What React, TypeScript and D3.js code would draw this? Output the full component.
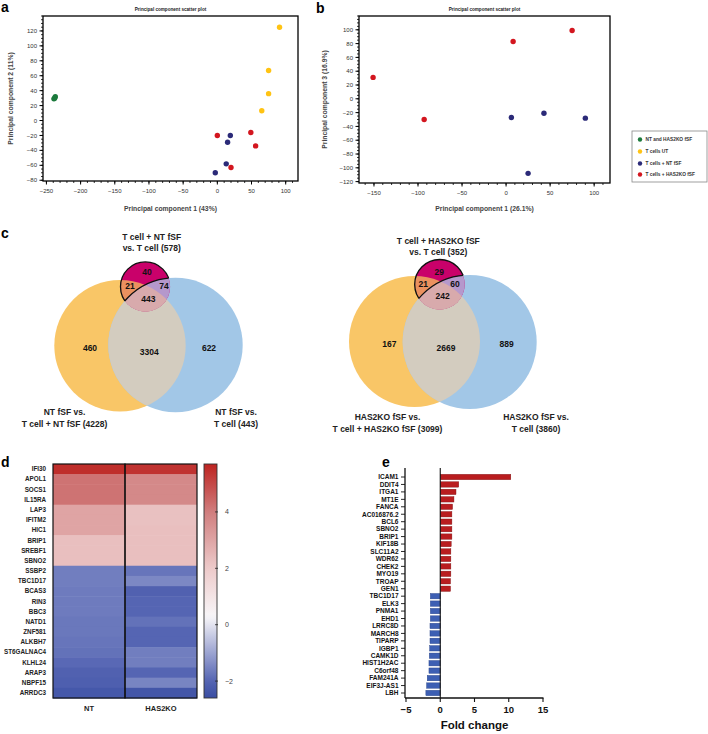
import React from 'react';
import * as d3 from 'd3';

const FONT = 'Arial, "Liberation Sans", Helvetica, sans-serif';

// ---------- PCA data ----------
const pcaGroups = ['NT and HAS2KO fSF', 'T cells UT', 'T cells + NT fSF', 'T cells + HAS2KO fSF'];
const groupColors = ['#1c7a3c', '#ffc313', '#2b2a78', '#d3161f'];

const pc1A = [-239, -237, -238, 91, 75, 75, 65, 19, 15, 13, -3, 0, 20, 49, 56];
const pc2A = [29, 32, 30, 125, 67, 36, 13, -20, -29, -58, -70, -20, -63, -16, -34];
const groupA = [0, 0, 0, 1, 1, 1, 1, 2, 2, 2, 2, 3, 3, 3, 3];

const pc1B = [6, 43, 90, 25, -151, -93, 8, 75];
const pc3B = [-27, -21, -28, -108, 31, -30, 83, 99];
const groupB = [2, 2, 2, 2, 3, 3, 3, 3];

const ticksA_x = [-250, -200, -150, -100, -50, 0, 50, 100];
const ticksA_y = [-80, -60, -40, -20, 0, 20, 40, 60, 80, 100, 120];
const ticksB_x = [-150, -100, -50, 0, 50, 100];
const ticksB_y = [-120, -100, -80, -60, -40, -20, 0, 20, 40, 60, 80, 100];

// ---------- Venn data ----------
const vennNtCounts = [40, 21, 74, 443, 460, 3304, 622];
const vennKoCounts = [29, 21, 60, 242, 167, 2669, 889];
const vennNtTop = ['T cell + NT fSF', 'vs. T cell (578)'];
const vennNtLeft = ['NT fSF vs.', 'T cell + NT fSF (4228)'];
const vennNtRight = ['NT fSF vs.', 'T cell (443)'];
const vennKoTop = ['T cell + HAS2KO fSF', 'vs. T cell (352)'];
const vennKoLeft = ['HAS2KO fSF vs.', 'T cell + HAS2KO fSF (3099)'];
const vennKoRight = ['HAS2KO fSF vs.', 'T cell (3860)'];

// ---------- Heatmap data ----------
const heatGenes = ['IFI30', 'APOL1', 'SOCS1', 'IL15RA', 'LAP3', 'IFITM2', 'HIC1', 'BRIP1', 'SREBF1', 'SBNO2',
  'SSBP2', 'TBC1D17', 'BCAS3', 'RIN3', 'BBC3', 'NATD1', 'ZNF581', 'ALKBH7', 'ST6GALNAC4', 'KLHL24', 'ARAP3', 'NBPF15', 'ARRDC3'];
const heatCols = ['NT', 'HAS2KO'];
const heatNT = [5.5, 4.2, 4.2, 4.2, 3.0, 3.0, 3.0, 2.3, 2.3, 2.3, -1.6, -1.6, -1.65, -1.65, -1.65, -1.7, -1.7, -1.75, -1.8, -1.95, -2.1, -2.15, -2.35];
const heatKO = [5.4, 3.7, 3.7, 3.7, 2.25, 2.25, 2.3, 2.3, 2.3, 2.3, -1.75, -1.45, -2.1, -2.0, -2.0, -1.8, -2.0, -2.0, -1.6, -1.6, -2.0, -1.5, -2.4];
const colorbarTicks = [-2, 0, 2, 4];
const heatColorDomain = [-2.6, -2, 0.3, 2, 4, 5.7];
const heatColorRange = ['#3a4ea3', '#5565b3', '#f8f6f8', '#edcaca', '#d07e7e', '#bd2320'];

// ---------- Fold change data ----------
const fcGenes = ['ICAM1', 'DDIT4', 'ITGA1', 'MT1E', 'FANCA', 'AC016876.2', 'BCL6', 'SBNO2', 'BRIP1', 'KIF18B', 'SLC11A2',
  'WDR62', 'CHEK2', 'MYO19', 'TROAP', 'GEN1', 'TBC1D17', 'ELK3', 'PNMA1', 'EHD1', 'LRRC8D', 'MARCH8', 'TIPARP', 'IGBP1',
  'CAMK1D', 'HIST1H2AC', 'C6orf48', 'FAM241A', 'EIF3J-AS1', 'LBH'];
const fcValues = [10.3, 2.7, 2.3, 2.0, 1.8, 1.7, 1.7, 1.7, 1.7, 1.6, 1.55, 1.55, 1.55, 1.55, 1.5, 1.5,
  -1.45, -1.45, -1.45, -1.45, -1.5, -1.5, -1.5, -1.55, -1.6, -1.65, -1.65, -1.9, -2.0, -2.1];
const fcTicks = [-5, 0, 5, 10, 15];

const minus = (v: number) => (v < 0 ? '\u2212' + Math.abs(v) : String(v));

function Scatter(props: any) {
  const { x0, y0, w, h, xDom, yDom, xTicks, yTicks, xMinor, yMinor, xs, ys, gs, title, xLabel, yLabel, yLabelX } = props;
  const x = d3.scaleLinear().domain(xDom).range([x0, x0 + w]);
  const y = d3.scaleLinear().domain(yDom).range([y0 + h, y0]);
  const xm = d3.range(Math.ceil(xDom[0] / xMinor) * xMinor, xDom[1] + 0.001, xMinor);
  const ym = d3.range(Math.ceil(yDom[0] / yMinor) * yMinor, yDom[1] + 0.001, yMinor);
  return (
    <g>
      <text x={x0 + w / 2} y={y0 - 5} textAnchor="middle" fontSize={4.6} fontWeight="bold" fill="#222">{title}</text>
      <rect x={x0} y={y0} width={w} height={h} fill="none" stroke="#000" strokeWidth={1.3} />
      {xm.map((v, i) => <line key={'xm' + i} x1={x(v)} x2={x(v)} y1={y0 + h} y2={y0 + h + 2} stroke="#000" strokeWidth={0.8} />)}
      {ym.map((v, i) => <line key={'ym' + i} x1={x0} x2={x0 - 2} y1={y(v)} y2={y(v)} stroke="#000" strokeWidth={0.8} />)}
      {xTicks.map((v: number) => (
        <g key={'xt' + v}>
          <line x1={x(v)} x2={x(v)} y1={y0 + h} y2={y0 + h + 3.5} stroke="#000" strokeWidth={1} />
          <text x={x(v)} y={y0 + h + 12} textAnchor="middle" fontSize={6} fill="#333">{minus(v)}</text>
        </g>
      ))}
      {yTicks.map((v: number) => (
        <g key={'yt' + v}>
          <line x1={x0} x2={x0 - 3.5} y1={y(v)} y2={y(v)} stroke="#000" strokeWidth={1} />
          <text x={x0 - 6} y={y(v)} dy="0.35em" textAnchor="end" fontSize={6} fill="#333">{minus(v)}</text>
        </g>
      ))}
      {xs.map((v: number, i: number) => (
        <circle key={'p' + i} cx={x(v)} cy={y(ys[i])} r={2.7} fill={groupColors[gs[i]]} />
      ))}
      <text x={x0 + w / 2} y={211} textAnchor="middle" fontSize={6.8} fontWeight="bold" fill="#444">{xLabel}</text>
      <text transform={`translate(${yLabelX},${y0 + h / 2}) rotate(-90)`} textAnchor="middle" fontSize={6.8} fontWeight="bold" fill="#444">{yLabel}</text>
    </g>
  );
}

function Venn(props: any) {
  const { id, yc, bc, sc, counts, pos, top, topPos, left, leftPos, right, rightPos } = props;
  const col = {
    yellow: '#f9c667', blue: '#a2c7e7', both: '#d3ccbf', mag: '#c9016a', orange: '#ea915f', purple: '#b598cc', tri: '#d8aaac',
  };
  return (
    <g>
      <defs>
        <clipPath id={id + 'cy'}><circle cx={yc[0]} cy={yc[1]} r={yc[2]} /></clipPath>
        <clipPath id={id + 'cb'}><circle cx={bc[0]} cy={bc[1]} r={bc[2]} /></clipPath>
        <clipPath id={id + 'cs'}><circle cx={sc[0]} cy={sc[1]} r={sc[2]} /></clipPath>
        <mask id={id + 'mb'}>
          <rect x={0} y={0} width={708} height={734} fill="#fff" />
          <circle cx={bc[0]} cy={bc[1]} r={bc[2]} fill="#000" />
        </mask>
      </defs>
      <circle cx={yc[0]} cy={yc[1]} r={yc[2]} fill={col.yellow} />
      <circle cx={bc[0]} cy={bc[1]} r={bc[2]} fill={col.blue} />
      <circle cx={bc[0]} cy={bc[1]} r={bc[2]} fill={col.both} clipPath={`url(#${id}cy)`} />
      <circle cx={sc[0]} cy={sc[1]} r={sc[2]} fill={col.mag} />
      <circle cx={sc[0]} cy={sc[1]} r={sc[2]} fill={col.orange} clipPath={`url(#${id}cy)`} />
      <circle cx={sc[0]} cy={sc[1]} r={sc[2]} fill={col.purple} clipPath={`url(#${id}cb)`} />
      <g clipPath={`url(#${id}cy)`}>
        <circle cx={sc[0]} cy={sc[1]} r={sc[2]} fill={col.tri} clipPath={`url(#${id}cb)`} />
      </g>
      <circle cx={sc[0]} cy={sc[1]} r={sc[2]} fill="none" stroke="#111" strokeWidth={1.3} mask={`url(#${id}mb)`} />
      <circle cx={bc[0]} cy={bc[1]} r={bc[2]} fill="none" stroke="#111" strokeWidth={1.3} clipPath={`url(#${id}cs)`} />
      {counts.map((c: number, i: number) => (
        <text key={i} x={pos[i][0]} y={pos[i][1]} dy="0.35em" textAnchor="middle" fontSize={8.5} fontWeight="bold" fill="#111">{c}</text>
      ))}
      {top.map((t: string, i: number) => (
        <text key={'t' + i} x={topPos[0]} y={topPos[1] + i * 10.8} dy="0.35em" textAnchor="middle" fontSize={8.5} fontWeight="bold" fill="#222">{t}</text>
      ))}
      {left.map((t: string, i: number) => (
        <text key={'l' + i} x={leftPos[0]} y={leftPos[1] + i * 12.5} dy="0.35em" textAnchor="middle" fontSize={8.5} fontWeight="bold" fill="#222">{t}</text>
      ))}
      {right.map((t: string, i: number) => (
        <text key={'r' + i} x={rightPos[0]} y={rightPos[1] + i * 12.5} dy="0.35em" textAnchor="middle" fontSize={8.5} fontWeight="bold" fill="#222">{t}</text>
      ))}
    </g>
  );
}

function Heatmap() {
  const y = d3.scaleBand().domain(heatGenes).range([464, 698]);
  const x = d3.scaleBand().domain(heatCols).range([53, 197]);
  const color = d3.scaleLinear<string>().domain(heatColorDomain).range(heatColorRange).clamp(true);
  const cb = d3.scaleLinear().domain([-2.6, 5.7]).range([698, 464]);
  const cols = [heatNT, heatKO];
  const stops = d3.range(0, 1.0001, 0.02).map((t) => {
    const v = -2.6 + t * (5.7 + 2.6);
    return { off: t, c: color(v) };
  });
  return (
    <g>
      <defs>
        <linearGradient id="cbgrad" x1="0" y1="1" x2="0" y2="0">
          {stops.map((s, i) => <stop key={i} offset={s.off} stopColor={s.c} />)}
        </linearGradient>
      </defs>
      {cols.map((vals, ci) => heatGenes.map((g, ri) => (
        <rect key={ci + '-' + ri} x={x(heatCols[ci])} y={y(g)} width={x.bandwidth()} height={y.bandwidth() + 0.5} fill={color(vals[ri])} />
      )))}
      {heatCols.map((c) => (
        <g key={c}>
          <rect x={x(c)} y={464} width={x.bandwidth()} height={234} fill="none" stroke="#111" strokeWidth={1.2} />
          <text x={(x(c) as number) + x.bandwidth() / 2} y={711} textAnchor="middle" fontSize={7.5} fontWeight="bold" fill="#222">{c}</text>
        </g>
      ))}
      {heatGenes.map((g) => (
        <text key={g} x={46} y={(y(g) as number) + y.bandwidth() / 2} dy="0.35em" textAnchor="end" fontSize={6.3} fontWeight="bold" fill="#222">{g}</text>
      ))}
      <rect x={204} y={464} width={13} height={234} fill="url(#cbgrad)" stroke="#333" strokeWidth={0.9} />
      {colorbarTicks.map((t) => (
        <g key={t}>
          <line x1={215} x2={218} y1={cb(t)} y2={cb(t)} stroke="#222" strokeWidth={0.8} />
          <text x={225} y={cb(t)} dy="0.35em" fontSize={7} fill="#444">{minus(t)}</text>
        </g>
      ))}
    </g>
  );
}

function FoldChart() {
  const y = d3.scalePoint().domain(fcGenes).range([477, 693]);
  const x = d3.scaleLinear().domain([-5, 15]).range([406, 543]);
  const bh = 5.4;
  return (
    <g>
      {fcGenes.map((g, i) => {
        const v = fcValues[i];
        const x1 = x(Math.min(0, v));
        const x2 = x(Math.max(0, v));
        return (
          <rect key={g} x={x1} y={(y(g) as number) - bh / 2} width={x2 - x1} height={bh}
            fill={v > 0 ? '#b91d1f' : '#3d5fb3'} stroke={v > 0 ? '#7d1214' : '#233f85'} strokeWidth={0.4} />
        );
      })}
      <line x1={405} x2={405} y1={468} y2={698} stroke="#111" strokeWidth={1.3} />
      <line x1={x(0)} x2={x(0)} y1={468} y2={698} stroke="#111" strokeWidth={1.1} />
      {fcGenes.map((g) => (
        <g key={'l' + g}>
          <line x1={401} x2={405} y1={y(g)} y2={y(g)} stroke="#111" strokeWidth={0.9} />
          <text x={398.5} y={y(g)} dy="0.35em" textAnchor="end" fontSize={6.5} fontWeight="bold" fill="#111">{g}</text>
        </g>
      ))}
      <line x1={405} x2={543.5} y1={698} y2={698} stroke="#111" strokeWidth={1.3} />
      {fcTicks.map((t) => (
        <g key={'t' + t}>
          <line x1={x(t)} x2={x(t)} y1={698} y2={702} stroke="#111" strokeWidth={1.1} />
          <text x={x(t)} y={713} textAnchor="middle" fontSize={9.5} fontWeight="bold" fill="#111">{minus(t)}</text>
        </g>
      ))}
      <text x={x(5)} y={729} textAnchor="middle" fontSize={11.5} fontWeight="bold" fill="#111">Fold change</text>
    </g>
  );
}

export default function App() {
  return (
    <svg width={708} height={734} viewBox="0 0 708 734" style={{ position: 'absolute', left: 0, top: 0, background: '#fff' }} fontFamily={FONT}>
      <rect x={0} y={0} width={708} height={734} fill="#fff" />
      <text x={1} y={12} fontSize={14} fontWeight="bold">a</text>
      <text x={316} y={13} fontSize={14} fontWeight="bold">b</text>
      <text x={1} y={238} fontSize={14} fontWeight="bold">c</text>
      <text x={1} y={467} fontSize={14} fontWeight="bold">d</text>
      <text x={382} y={467} fontSize={14} fontWeight="bold">e</text>

      <Scatter x0={43} y0={16} w={255} h={165} xDom={[-255, 118]} yDom={[-81, 140]}
        xTicks={ticksA_x} yTicks={ticksA_y} xMinor={10} yMinor={5}
        xs={pc1A} ys={pc2A} gs={groupA} title="Principal component scatter plot"
        xLabel="Principal component 1 (43%)" yLabel="Principal component 2 (11%)" yLabelX={13} />
      <Scatter x0={359} y0={16} w={251} h={167} xDom={[-167, 118]} yDom={[-122, 120]}
        xTicks={ticksB_x} yTicks={ticksB_y} xMinor={10} yMinor={5}
        xs={pc1B} ys={pc3B} gs={groupB} title="Principal component scatter plot"
        xLabel="Principal component 1 (26.1%)" yLabel="Principal component 3 (16.9%)" yLabelX={327} />

      <g>
        <rect x={632} y={131} width={75} height={51} fill="#fff" stroke="#888" strokeWidth={0.8} />
        {pcaGroups.map((g, i) => (
          <g key={g}>
            <circle cx={640} cy={[139.5, 151.5, 163.5, 174.5][i]} r={2.2} fill={groupColors[i]} />
            <text x={645.5} y={[139.5, 151.5, 163.5, 174.5][i]} dy="0.35em" fontSize={4.8} fontWeight="bold" fill="#333">{g}</text>
          </g>
        ))}
      </g>

      <Venn id="v1" yc={[120, 345.7, 65.7]} bc={[175.5, 345, 67.2]} sc={[145.3, 286.7, 24.8]}
        counts={vennNtCounts}
        pos={[[147, 272.5], [130, 286.5], [164, 286.5], [148.3, 299.5], [90, 347.7], [149.3, 352.3], [209, 347.7]]}
        top={vennNtTop} topPos={[151.7, 237.5]}
        left={vennNtLeft} leftPos={[64.5, 412]} right={vennNtRight} rightPos={[236, 412]} />
      <Venn id="v2" yc={[414.5, 341.5, 65.5]} bc={[469.7, 342, 67]} sc={[439.7, 284.5, 25]}
        counts={vennKoCounts}
        pos={[[439.3, 272.3], [423.3, 284], [455, 284.3], [442.7, 296], [389.3, 344], [446, 348.3], [506.7, 344]]}
        top={vennKoTop} topPos={[438.3, 241.5]}
        left={vennKoLeft} leftPos={[387.5, 417]} right={vennKoRight} rightPos={[536, 417]} />

      <Heatmap />
      <FoldChart />
    </svg>
  );
}
